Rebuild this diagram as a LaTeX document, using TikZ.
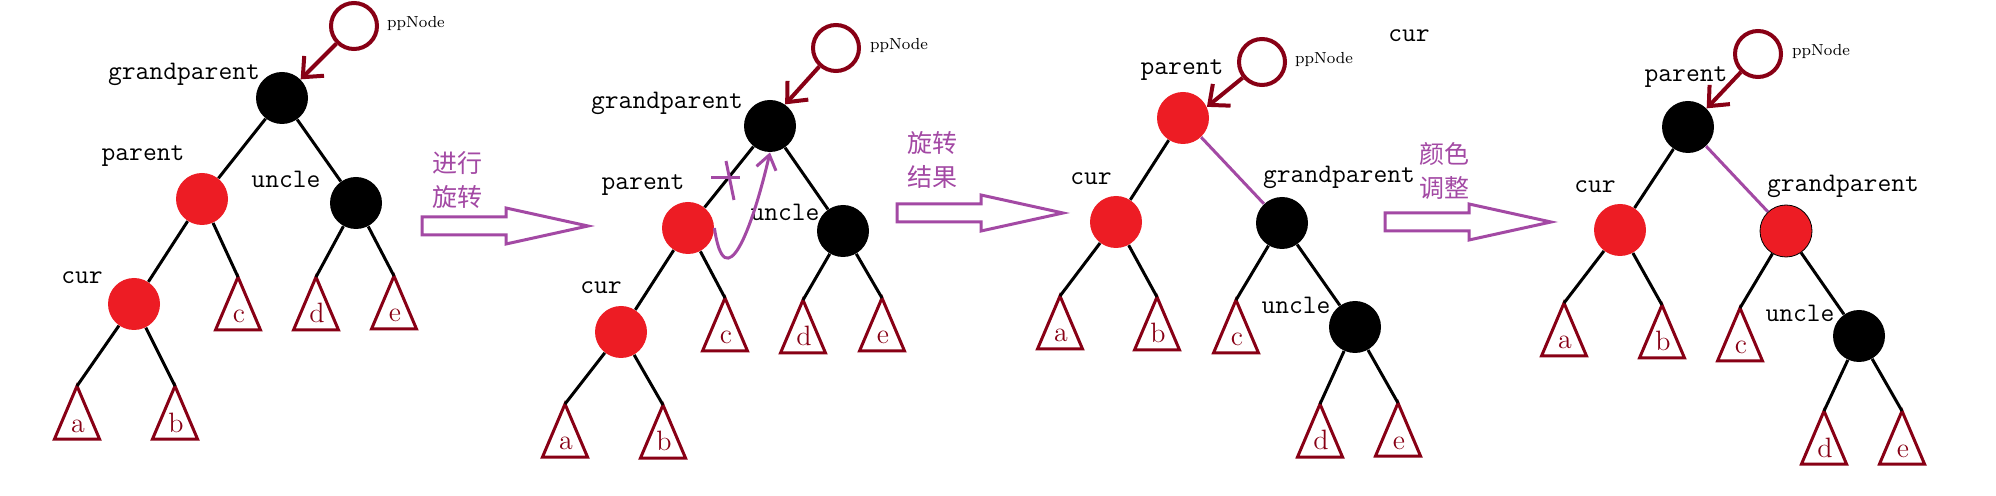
\documentclass[tikz,border=0pt]{standalone}
\usepackage{fontspec}
\newfontfamily\cjk{Noto Sans CJK SC}
\usetikzlibrary{arrows.meta}

\definecolor{rbred}{HTML}{ED1C24}
\definecolor{rbdark}{HTML}{880015}
\definecolor{rbpurple}{HTML}{A349A4}

% subtree triangle: name, apex x, apex y, letter
\newcommand{\subtree}[4]{%
  \coordinate (#1) at (#2,#3);
  \draw[subtree] (#1) -- ++(-22.5,53) -- ++(45,0) -- cycle;
  \path (#1) ++(1,46) node[leaf, anchor=base] (#1-txt) {#4};
}

\begin{document}
\begin{tikzpicture}[
  x=0.5pt, y=-0.5pt,
  blacknode/.style={circle, fill=black, minimum size=26pt, inner sep=0pt},
  rednode/.style={circle, fill=rbred, minimum size=26pt, inner sep=0pt},
  ppcircle/.style={circle, draw=rbdark, line width=2pt, minimum size=23pt, inner sep=0pt},
  pptext/.style={font=\fontsize{8}{9}\selectfont},
  tag/.style={font=\ttfamily\fontsize{13.4}{15}\selectfont},
  leaf/.style={text=rbdark, font=\fontsize{14}{16}\selectfont, inner sep=0pt},
  subtree/.style={draw=rbdark, line width=1.5pt},
  link/.style={line width=1.5pt},
  rotlink/.style={draw=rbpurple, line width=1.5pt},
  pparrow/.style={draw=rbdark, line width=2pt, -{Straight Barb[length=8pt,width=14pt]}},
  blockarrow/.style={draw=rbpurple, line width=1.5pt},
  note/.style={text=rbpurple, font=\cjk\fontsize{12.5}{17}\selectfont, align=center}
]
\path[fill=white] (0,0) rectangle (1996,496);
\useasboundingbox (0,0) rectangle (1996,496);

% ---- before rotation
\node[ppcircle] (pp1) at (354,26) {};
\node[pptext] (pp1-txt) at (416,24) {ppNode};
\node[blacknode] (g1) at (282,98) {};
\node[tag] (g1-txt) at (184,74) {grandparent};
\node[rednode] (p1) at (202,199) {};
\node[tag] (p1-txt) at (143,156) {parent};
\node[blacknode] (u1) at (356,203) {};
\node[tag] (u1-txt) at (286,179) {uncle};
\node[rednode] (c1) at (134,304) {};
\node[tag] (c1-txt) at (82,278) {cur};
\subtree{a1}{77}{386}{a}
\subtree{b1}{175}{386}{b}
\subtree{t1c}{238}{277}{c}
\subtree{d1}{316}{277}{d}
\subtree{e1}{394}{276}{e}
\draw[pparrow] (pp1) -- (g1.north east);
\draw[link] (g1) -- (p1);
\draw[link] (g1) -- (u1);
\draw[link] (p1) -- (c1);
\draw[link] (p1) -- (t1c);
\draw[link] (u1) -- (d1);
\draw[link] (u1) -- (e1);
\draw[link] (c1) -- (a1);
\draw[link] (c1) -- (b1);

% ---- rotating
\node[ppcircle] (pp2) at (836,48) {};
\node[pptext] (pp2-txt) at (899,46) {ppNode};
\node[blacknode] (g2) at (770,126) {};
\node[tag] (g2-txt) at (667,103) {grandparent};
\node[rednode] (p2) at (688,228) {};
\node[tag] (p2-txt) at (643,185) {parent};
\node[blacknode] (u2) at (843,231) {};
\node[tag] (u2-txt) at (785,212) {uncle};
\node[rednode] (c2) at (621,332) {};
\node[tag] (c2-txt) at (601,288) {cur};
\subtree{a2}{565}{404}{a}
\subtree{b2}{663}{405}{b}
\subtree{t2c}{725}{298}{c}
\subtree{d2}{803}{300}{d}
\subtree{e2}{882}{298}{e}
\draw[pparrow] (pp2) -- (g2.55);
\draw[link] (g2) -- (p2);
\draw[link] (g2) -- (u2);
\draw[link] (p2) -- (c2);
\draw[link] (p2) -- (t2c);
\draw[link] (u2) -- (d2);
\draw[link] (u2) -- (e2);
\draw[link] (c2) -- (a2);
\draw[link] (c2) -- (b2);
% cut mark and rotation curve
\draw[rotlink] (711,178) -- (740,178);
\draw[rotlink] (726,161) -- (734,200);
\draw[rotlink, -{Straight Barb[length=7pt,width=10pt]}] (p2.east) .. controls (725,300) and (752,230) .. (g2.south);

% ---- after rotation
\node[ppcircle] (pp3) at (1262,62) {};
\node[pptext] (pp3-txt) at (1324,60) {ppNode};
\node[tag] (cur-top) at (1409,36) {cur};
\node[rednode] (p3) at (1183,118) {};
\node[tag] (p3-txt) at (1182,70) {parent};
\node[rednode] (c3) at (1116,222) {};
\node[tag] (c3-txt) at (1091,179) {cur};
\node[blacknode] (g3) at (1282,223) {};
\node[tag] (g3-txt) at (1339,177) {grandparent};
\node[blacknode] (u3) at (1355,327) {};
\node[tag] (u3-txt) at (1296,305) {uncle};
\subtree{a3}{1060}{296}{a}
\subtree{b3}{1157}{297}{b}
\subtree{t3c}{1236}{300}{c}
\subtree{d3}{1320}{404}{d}
\subtree{e3}{1398}{403}{e}
\draw[pparrow] (pp3) -- (p3.25);
\draw[link] (p3) -- (c3);
\draw[rotlink] (p3) -- (g3);
\draw[link] (c3) -- (a3);
\draw[link] (c3) -- (b3);
\draw[link] (g3) -- (t3c);
\draw[link] (g3) -- (u3);
\draw[link] (u3) -- (d3);
\draw[link] (u3) -- (e3);

% ---- after recolouring
\node[ppcircle] (pp4) at (1758,54) {};
\node[pptext] (pp4-txt) at (1821,52) {ppNode};
\node[blacknode] (p4) at (1688,127) {};
\node[tag] (p4-txt) at (1686,77) {parent};
\node[rednode] (c4) at (1620,230) {};
\node[tag] (c4-txt) at (1595,187) {cur};
\node[rednode, draw=black, thin] (g4) at (1786,231) {};
\node[tag] (g4-txt) at (1843,186) {grandparent};
\node[blacknode] (u4) at (1859,336) {};
\node[tag] (u4-txt) at (1800,313) {uncle};
\subtree{a4}{1564}{303}{a}
\subtree{b4}{1662}{305}{b}
\subtree{t4c}{1740}{308}{c}
\subtree{d4}{1824}{411}{d}
\subtree{e4}{1902}{411}{e}
\draw[pparrow] (pp4) -- (p4.north east);
\draw[link] (p4) -- (c4);
\draw[rotlink] (p4) -- (g4);
\draw[link] (c4) -- (a4);
\draw[link] (c4) -- (b4);
\draw[link] (g4) -- (t4c);
\draw[link] (g4) -- (u4);
\draw[link] (u4) -- (d4);
\draw[link] (u4) -- (e4);

% ---- step arrows
\foreach \ax/\ay in {422/226, 897/213, 1385/222}
  \draw[blockarrow, shift={(\ax,\ay)}] (0,-9) -- (84,-9) -- (84,-18) -- (166,0) -- (84,18) -- (84,9) -- (0,9) -- cycle;
\node[note] (note1) at (457,180) {进行\\旋转};
\node[note] (note2) at (932,160) {旋转\\结果};
\node[note] (note3) at (1444,171) {颜色\\调整};
\end{tikzpicture}
\end{document}
